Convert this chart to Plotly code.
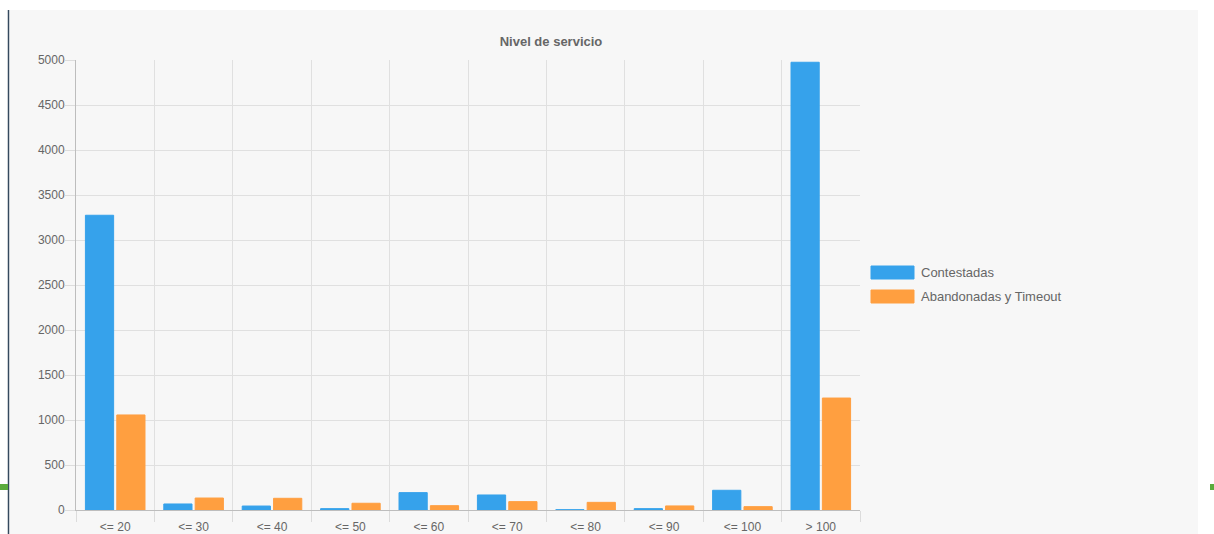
import plotly.graph_objects as go

# Nivel de servicio data
categories = ["<= 20", "<= 30", "<= 40", "<= 50", "<= 60", "<= 70", "<= 80", "<= 90", "<= 100", "> 100"]
contestadas = [3275, 67, 44, 15, 193, 167, 3, 15, 219, 4975]
abandonadas = [1056, 133, 130, 75, 48, 93, 85, 45, 37, 1244]

series_names = ["Contestadas", "Abandonadas y Timeout"]
series_colors = ["#36a2eb", "#ff9f40"]

fig = go.Figure()
for name, values, color in zip(series_names, [contestadas, abandonadas], series_colors):
    fig.add_trace(
        go.Bar(
            x=categories,
            y=values,
            name=name,
            marker=dict(color=color, line=dict(color=color, width=1)),
            showlegend=False,
        )
    )

# plot area in pixels: x 76..860, y 60..510
def px_x(p):
    return (p - 76) / 784


def px_y(p):
    return (510 - p) / 450


shapes = [
    # grey panel behind the chart
    dict(type="rect", xref="paper", yref="paper", x0=px_x(10), x1=px_x(1198),
         y0=px_y(536), y1=px_y(10), fillcolor="#f7f7f7", line=dict(width=0), layer="below"),
    # dark page border on the left
    dict(type="line", xref="paper", yref="paper", x0=px_x(8.5), x1=px_x(8.5),
         y0=px_y(536), y1=px_y(10), line=dict(color="#34495e", width=1.5)),
    # green rule pieces
    dict(type="line", xref="paper", yref="paper", x0=px_x(0), x1=px_x(8),
         y0=px_y(487), y1=px_y(487), line=dict(color="#5aab3c", width=6)),
    dict(type="line", xref="paper", yref="paper", x0=px_x(1210), x1=px_x(1214),
         y0=px_y(487), y1=px_y(487), line=dict(color="#5aab3c", width=6)),
]

# custom legend (wide swatches like the original)
annotations = []
for i, (name, color) in enumerate(zip(series_names, series_colors)):
    top = 266 + i * 24
    shapes.append(dict(type="rect", xref="paper", yref="paper", x0=px_x(871), x1=px_x(914),
                       y0=px_y(top + 13), y1=px_y(top), fillcolor=color,
                       line=dict(color=color, width=1)))
    annotations.append(dict(xref="paper", yref="paper", x=px_x(919), y=px_y(top + 6.5),
                            text=name, showarrow=False, xanchor="left", yanchor="middle",
                            font=dict(size=13, color="#666666")))

fig.update_layout(
    width=1214,
    height=534,
    margin=dict(l=76, r=354, t=60, b=24),
    paper_bgcolor="white",
    plot_bgcolor="rgba(0,0,0,0)",
    font=dict(family="Liberation Sans, Arial, sans-serif", size=12, color="#666666"),
    title=dict(text="<b>Nivel de servicio</b>", x=551 / 1214, xref="container", xanchor="center",
               y=1 - 41 / 534, yref="container", yanchor="middle",
               font=dict(size=13, color="#666666")),
    barmode="group",
    bargap=0.2,
    bargroupgap=0.1,
    shapes=shapes,
    annotations=annotations,
    xaxis=dict(
        type="category",
        tickson="boundaries",
        showgrid=True,
        gridcolor="#e0e0e0",
        ticks="outside",
        ticklen=11,
        tickcolor="#dcdcdc",
        ticklabelstandoff=6,
        showline=True,
        linecolor="#bdbdbd",
        tickfont=dict(size=12, color="#666666"),
        automargin=False,
        fixedrange=True,
    ),
    yaxis=dict(
        range=[0, 5000],
        tickvals=list(range(0, 5001, 500)),
        showgrid=True,
        gridcolor="#e0e0e0",
        zeroline=False,
        ticks="outside",
        ticklen=10,
        tickcolor="#dcdcdc",
        ticklabelstandoff=-2,
        showline=True,
        linecolor="#bdbdbd",
        tickfont=dict(size=12, color="#666666"),
        automargin=False,
    ),
)

# remove the default page margin so the chart sits at the window origin
fig.write_html(
    "out.html",
    config={"displayModeBar": False},
    post_script="document.body.style.margin='0';",
)
